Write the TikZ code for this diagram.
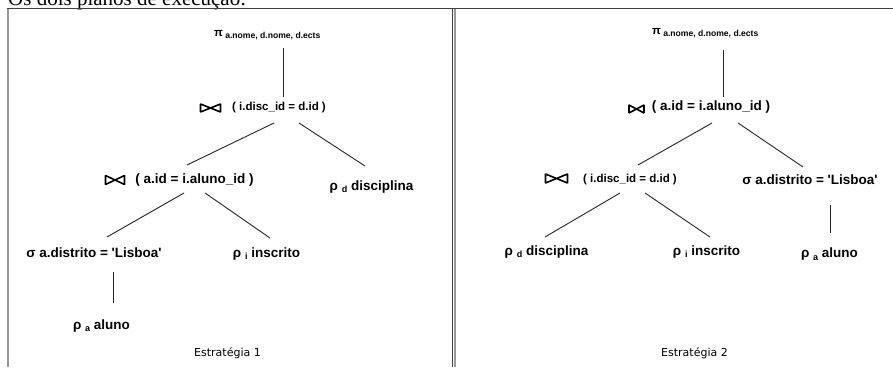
\documentclass[tikz,border=0pt]{standalone}
\usepackage{fontspec}
\setmainfont{Liberation Sans}
\newfontface\opfont{Liberation Sans Bold}
\newfontface\capfont{DejaVu Sans}
\newfontface\titlefont{Liberation Serif}
\newcommand{\opsub}[2][9]{\raisebox{-2.5pt}{\fontsize{#1}{#1}\selectfont #2}}
\newcommand{\pisym}{{\fontsize{11.5}{11.5}\selectfont π}}
\tikzset{
  op/.style={font=\opfont\fontsize{13.5}{14}\selectfont, inner sep=0pt, anchor=base},
  opsmall/.style={font=\opfont\fontsize{11.5}{12}\selectfont, inner sep=0pt, anchor=base},
  proj/.style={font=\opfont\fontsize{13.5}{14}\selectfont, inner sep=0pt, anchor=base west},
  caption/.style={font=\capfont\fontsize{11}{12}\selectfont, inner sep=0pt, anchor=base},
  link/.style={draw=black!85, line width=0.9pt},
  tie/.style={inner sep=0pt, outer sep=0pt},
  tieline/.style={draw=black, line width=1.6pt, line join=bevel},
  frame dark/.style={draw=black!75, line width=1.1pt},
  frame light/.style={draw=black!40, line width=2pt},
}
\begin{document}
\begin{tikzpicture}[x=1pt, y=-1pt]
\clip (0,0) rectangle (893,367);
\fill[white] (0,0) rectangle (893,367);

% title (cut by the top edge)
\node[font=\titlefont\fontsize{21}{21}\selectfont, inner sep=0pt, anchor=base west] (title) at (8,5.5) {Os dois planos de execução:};

% frames
\draw[frame light] (7.5,9.3) -- (7.5,367);
\draw[frame dark] (7,8.4) -- (893,8.4);
\draw[frame dark] (452.8,8.4) -- (452.8,367);
\draw[frame light] (455,9.3) -- (455,367);

% ---------- Estratégia 1 ----------
\node[proj] (pi1) at (214,36) {\pisym\,\opsub[8.6]{a.nome, d.nome, d.ects}};
\node[tie, minimum width=20pt, minimum height=8pt] (tie1) at (210.5,108) {};
\node[opsmall] (j1) at (279,110.5) {( i.disc\_id = d.id )};
\node[tie, minimum width=19pt, minimum height=9pt] (tie2) at (115,180) {};
\node[op] (j2) at (194.5,183) {( a.id = i.aluno\_id )};
\node[op] (d1) at (371.5,190) {ρ \opsub{d} disciplina};
\node[op] (s1) at (94,257) {σ a.distrito = 'Lisboa'};
\node[op] (i1) at (266.5,257) {ρ \opsub{i} inscrito};
\node[op] (a1) at (101.5,329) {ρ \opsub{a} aluno};
\node[caption] (e1) at (227.5,356) {Estratégia 1};

\draw[link] ([shift={(69,12)}]pi1.base west) -- ([shift={(4,-13.5)}]j1.base);
\draw[link] ([shift={(-5,12.5)}]j1.base) -- ([shift={(-7.5,-18)}]j2.base);
\draw[link] ([shift={(20,12.5)}]j1.base) -- ([shift={(-6.5,-24)}]d1.base);
\draw[link] ([shift={(-10.5,10)}]j2.base) -- ([shift={(13,-20)}]s1.base);
\draw[link] ([shift={(10.5,10)}]j2.base) -- ([shift={(3.5,-19)}]i1.base);
\draw[link] ([shift={(19,15)}]s1.base) -- ([shift={(11.5,-26)}]a1.base);

% ---------- Estratégia 2 ----------
\node[proj] (pi2) at (652,34) {\pisym\,\opsub[8.6]{a.nome, d.nome, d.ects}};
\node[tie, minimum width=15pt, minimum height=8pt] (tie3) at (636.5,109) {};
\node[op] (j3) at (711,110) {( a.id = i.aluno\_id )};
\node[tie, minimum width=22pt, minimum height=9pt] (tie4) at (556.5,178.5) {};
\node[opsmall] (j4) at (630,182) {( i.disc\_id = d.id )};
\node[op] (s2) at (810,184) {σ a.distrito = 'Lisboa'};
\node[op] (d2) at (546.5,255) {ρ \opsub{d} disciplina};
\node[op] (i2) at (706.5,255) {ρ \opsub{i} inscrito};
\node[op] (a2) at (829.5,257.5) {ρ \opsub{a} aluno};
\node[caption] (e2) at (694.5,356) {Estratégia 2};

\draw[link] ([shift={(71,16)}]pi2.base west) -- ([shift={(12,-13)}]j3.base);
\draw[link] ([shift={(1,13)}]j3.base) -- ([shift={(8,-17)}]j4.base);
\draw[link] ([shift={(27,13)}]j3.base) -- ([shift={(-7,-17)}]s2.base);
\draw[link] ([shift={(-10,11)}]j4.base) -- ([shift={(-1.5,-18)}]d2.base);
\draw[link] ([shift={(15,11)}]j4.base) -- ([shift={(3.5,-18)}]i2.base);
\draw[link] ([shift={(20,21)}]s2.base) -- ([shift={(0.5,-24.5)}]a2.base);

% bowtie join symbols
\foreach \t in {tie1,tie2,tie3,tie4}{
  \draw[tieline] (\t.south west) -- (\t.north west) -- (\t.south east) -- (\t.north east) -- cycle;
}
\end{tikzpicture}
\end{document}
